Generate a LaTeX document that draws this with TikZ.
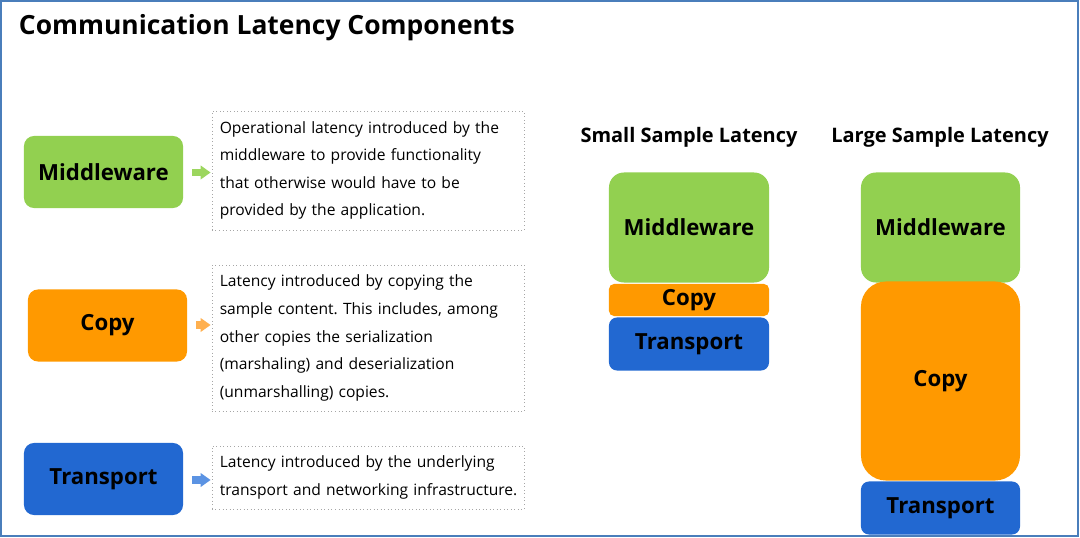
\documentclass[tikz,border=0pt]{standalone}
\usepackage{fontspec}
\setmainfont{Open Sans}
\usetikzlibrary{arrows.meta,positioning}
\frenchspacing

\definecolor{mwgreen}{HTML}{92D050}
\definecolor{cporange}{HTML}{FF9900}
\definecolor{trblue}{HTML}{2268D1}
\definecolor{mwarrow}{HTML}{9CD65E}
\definecolor{cparrow}{HTML}{FFB04F}
\definecolor{trarrow}{HTML}{5B93E3}
\definecolor{framecol}{HTML}{4A7EBB}

\tikzset{
  layer/.style={rounded corners=0.25cm,minimum width=3.975cm,minimum height=1.8cm,inner sep=2pt,align=center,font=\fontsize{15.8}{18}\selectfont\bfseries},
  desc/.style={draw=black!35,dotted,line width=0.5pt,minimum width=7.8cm,text width=7.65cm,inner sep=0pt,align=left,font=\fontsize{11.1}{19.6}\selectfont,execute at begin node={\leftskip=0.12cm}},
  pointer/.style={line width=5pt,-{Triangle[length=7.1pt,width=9.5pt]},shorten <=6.4pt,shorten >=0.7pt},
  heading/.style={font=\fontsize{14.2}{16}\selectfont\bfseries}
}

\begin{document}
\begin{tikzpicture}[x=0.025cm,y=-0.025cm]
\useasboundingbox (0,0) rectangle (1080,538);
\draw[framecol,line width=1.42pt] (1,1) rectangle (1078,536);
\node[anchor=west,font=\fontsize{18.8}{22}\selectfont\bfseries] (title) at (14,28) {Communication Latency Components};

% left column
\node[layer,fill=mwgreen] (mw) at (103.5,172) {Middleware};
\node[layer,fill=cporange] (cp) at (107.5,325.5) {Copy};
\node[layer,fill=trblue] (tr) at (103.5,479) {Transport};

\node[desc,minimum height=2.975cm] (mwtxt) at (368,170.5) {Operational latency introduced by the\\middleware to provide functionality\\that otherwise would have to be\\provided by the application.};
\node[desc,minimum height=3.65cm] (cptxt) at (368,338) {Latency introduced by copying the\\sample content. This includes, among\\other copies the serialization\\(marshaling) and deserialization\\(unmarshalling) copies.};
\node[desc,minimum height=1.575cm] (trtxt) at (368,477.5) {Latency introduced by the underlying\\transport and networking infrastructure.};

\draw[pointer,mwarrow] (mw.east |- 0,172.5) -- (mwtxt.west |- 0,172.5);
\draw[pointer,cparrow] (cp.east |- 0,325) -- (cptxt.west |- 0,325);
\draw[pointer,trarrow] (tr.east |- 0,480) -- (trtxt.west |- 0,480);

% small sample stack
\node[heading] (small) at (689,137) {Small Sample Latency};
\node[layer,fill=mwgreen,rounded corners=0.375cm,minimum width=4cm,minimum height=2.75cm] (smw) at (689,227.5) {Middleware};
\node[layer,fill=cporange,rounded corners=0.125cm,minimum width=4cm,minimum height=0.8cm] (scp) at (689,300) {Copy};
\node[layer,fill=trblue,rounded corners=0.2cm,minimum width=4cm,minimum height=1.325cm] (str) at (689,344) {Transport};

% large sample stack
\node[heading] (large) at (940,137) {Large Sample Latency};
\node[layer,fill=mwgreen,rounded corners=0.375cm,minimum width=3.975cm,minimum height=2.75cm] (lmw) at (940.5,227.5) {Middleware};
\node[layer,fill=cporange,rounded corners=0.625cm,minimum width=3.975cm,minimum height=4.975cm] (lcp) at (940.5,381) {Copy};
\node[layer,fill=trblue,rounded corners=0.2cm,minimum width=3.975cm,minimum height=1.325cm] (ltr) at (940.5,508) {Transport};
\end{tikzpicture}
\end{document}
